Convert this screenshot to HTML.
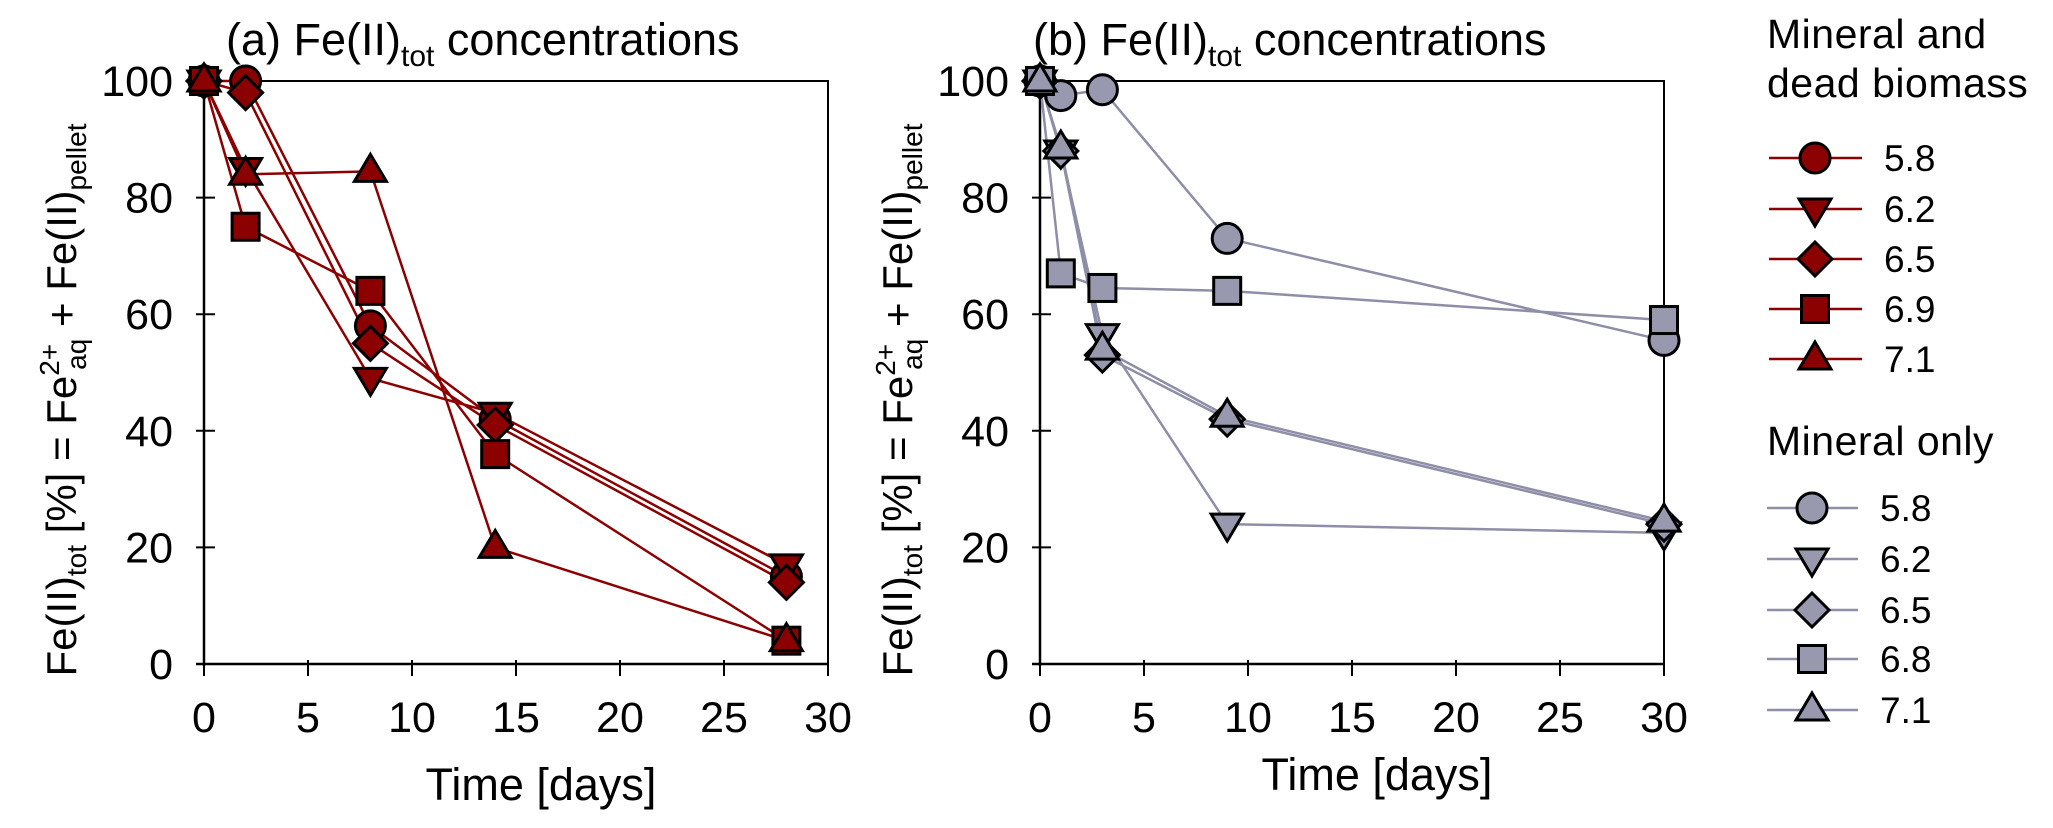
<!DOCTYPE html>
<html><head><meta charset="utf-8"><style>
html,body{margin:0;padding:0;background:#fff;}
svg{display:block;font-family:"Liberation Sans",Arial,sans-serif;}
</style></head><body>
<svg id="chart" width="2053" height="828" viewBox="0 0 2053 828" xmlns="http://www.w3.org/2000/svg"></svg>
<script>
const timesA = [0, 2, 8, 14, 28];
const phLabelsA = ["5.8", "6.2", "6.5", "6.9", "7.1"];
const seriesA_58 = [100, 100, 58, 42, 15];
const seriesA_62 = [100, 85, 49, 43, 17];
const seriesA_65 = [100, 98, 55, 41, 14];
const seriesA_69 = [100, 75, 64, 36, 4];
const seriesA_71 = [100, 84, 84.5, 20, 4];

const timesB = [0, 1, 3, 9, 30];
const phLabelsB = ["5.8", "6.2", "6.5", "6.8", "7.1"];
const seriesB_58 = [100, 97.5, 98.5, 73, 55.5];
const seriesB_62 = [100, 88, 56.5, 24, 22.5];
const seriesB_65 = [100, 88, 53, 42, 24];
const seriesB_68 = [100, 67, 64.5, 64, 59];
const seriesB_71 = [100, 88.5, 54, 42.5, 24.5];

const xTicks = [0, 5, 10, 15, 20, 25, 30];
const yTicks = [0, 20, 40, 60, 80, 100];
const shapes = ["circle", "down", "diamond", "square", "up"];

const NS = "http://www.w3.org/2000/svg";
const svg = document.getElementById("chart");
function el(tag, attrs, parent) {
  const e = document.createElementNS(NS, tag);
  for (const k in attrs) e.setAttribute(k, attrs[k]);
  (parent || svg).appendChild(e);
  return e;
}
const Y0 = 664, Y100 = 81;
function yScale(v) { return Y0 + (Y100 - Y0) * v / 100; }

function marker(g, shape, cx, cy, fill) {
  let m;
  const st = {fill: fill, stroke: "#000", "stroke-width": 3, "stroke-linejoin": "miter"};
  if (shape === "circle") m = el("circle", Object.assign({cx: cx, cy: cy, r: 15}, st), g);
  else if (shape === "square") m = el("rect", Object.assign({x: cx - 13.5, y: cy - 13.5, width: 27, height: 27}, st), g);
  else if (shape === "diamond") m = el("polygon", Object.assign({points: `${cx},${cy-17} ${cx+17},${cy} ${cx},${cy+17} ${cx-17},${cy}`}, st), g);
  else if (shape === "up") m = el("polygon", Object.assign({points: `${cx},${cy-17} ${cx+16},${cy+10} ${cx-16},${cy+10}`}, st), g);
  else m = el("polygon", Object.assign({points: `${cx},${cy+17} ${cx+16},${cy-10} ${cx-16},${cy-10}`}, st), g);
  return m;
}

function panel(id, x0, x30, times, series, labels, lineColor, fillColor, title, titleX, xTitleY) {
  const xScale = t => x0 + (x30 - x0) * t / 30;
  const g = el("g", {});
  
  
  const fr = el("path", {d: `M${x0},${Y100} L${x30},${Y100} L${x30},${Y0}`, fill: "none", stroke: "#000", "stroke-width": 2}, g);
  
  
  const ya = el("line", {x1: x0, y1: Y100, x2: x0, y2: Y0 + 2, stroke: "#000", "stroke-width": 2.5}, g);
  
  
  const xa = el("line", {x1: x0 - 8, y1: Y0, x2: x30, y2: Y0, stroke: "#000", "stroke-width": 2.5}, g);
  
  
  yTicks.forEach(v => {
    const y = yScale(v);
    const t = el("line", {x1: x0 - 8, y1: y, x2: x0 + 11, y2: y, stroke: "#000", "stroke-width": 2}, g);
    
    
    const tx = el("text", {x: x0 - 31, y: y + 15, "font-size": 43, "text-anchor": "end"}, g);
    tx.textContent = v;
    
    
  });
  xTicks.forEach(v => {
    const x = xScale(v);
    const t = el("line", {x1: x, y1: Y0 - 4, x2: x, y2: Y0 + 12, stroke: "#000", "stroke-width": 2}, g);
    
    
    const tx = el("text", {x: x, y: 732, "font-size": 43, "text-anchor": "middle"}, g);
    tx.textContent = v;
    
    
  });
  const xt = el("text", {x: (x0 + x30) / 2 + 25, y: xTitleY, "font-size": 45, "text-anchor": "middle"}, g);
  xt.textContent = "Time [days]";
  
  
  const yt = el("text", {transform: `translate(${x0 - 128},${400}) rotate(-90)`, "font-size": 42, "text-anchor": "middle"}, g);
  
  
  yt.innerHTML = 'Fe(II)<tspan font-size="28" dy="10">tot</tspan><tspan dy="-10"> [%] = Fe</tspan><tspan font-size="28" dy="-17">2+</tspan><tspan font-size="28" dx="-26" dy="27">aq</tspan><tspan dy="-10"> + Fe(II)</tspan><tspan font-size="28" dy="10">pellet</tspan>';
  const tt = el("text", {x: titleX, y: 55, "font-size": 45}, g);
  
  
  tt.innerHTML = title + ' Fe(II)<tspan font-size="30" dy="11">tot</tspan><tspan dy="-11"> concentrations</tspan>';
  series.forEach((vals, i) => {
    const sg = el("g", {}, g);
    
    
    const pts = vals.map((v, j) => xScale(times[j]) + "," + yScale(v)).join(" ");
    const pl = el("polyline", {points: pts, fill: "none", stroke: lineColor, "stroke-width": 2.5}, sg);
    
    
  });
  series.forEach((vals, i) => {
    vals.forEach((v, j) => {
      const m = marker(g, shapes[i], xScale(times[j]), yScale(v), fillColor);
      
      
    });
  });
}

const RED = "#8b0000", GRAYL = "#8e8ea8", GRAYF = "#9898ae";
panel("a", 204, 828, timesA, [seriesA_58, seriesA_62, seriesA_65, seriesA_69, seriesA_71], phLabelsA, RED, RED, "(a)", 226, 800);
panel("b", 1040, 1664, timesB, [seriesB_58, seriesB_62, seriesB_65, seriesB_68, seriesB_71], phLabelsB, GRAYL, GRAYF, "(b)", 1033, 790);

const lg = el("g", {});


function legendHead(lines, yArr) {
  lines.forEach((s, i) => {
    const t = el("text", {x: 1767, y: yArr[i], "font-size": 41, "letter-spacing": "0.5"}, lg);
    t.textContent = s;
    
    
  });
}
legendHead(["Mineral and", "dead biomass"], [48, 97]);
legendHead(["Mineral only"], [455]);
const legRedY = [158, 209, 259, 309, 359];
const legGrayY = [508, 559, 610, 659, 710];
phLabelsA.forEach((lab, i) => {
  const y = legRedY[i];
  const eg = el("g", {}, lg);
  
  
  el("line", {x1: 1769, y1: y, x2: 1862, y2: y, stroke: RED, "stroke-width": 2.5}, eg);
  marker(eg, shapes[i], 1815, y, RED);
  const t = el("text", {x: 1884, y: y + 13, "font-size": 37}, eg);
  t.textContent = lab;
});
phLabelsB.forEach((lab, i) => {
  const y = legGrayY[i];
  const eg = el("g", {}, lg);
  
  
  el("line", {x1: 1767, y1: y, x2: 1858, y2: y, stroke: GRAYL, "stroke-width": 2.5}, eg);
  marker(eg, shapes[i], 1812, y, GRAYF);
  const t = el("text", {x: 1880, y: y + 13, "font-size": 37}, eg);
  t.textContent = lab;
});
</script>
</body></html>
